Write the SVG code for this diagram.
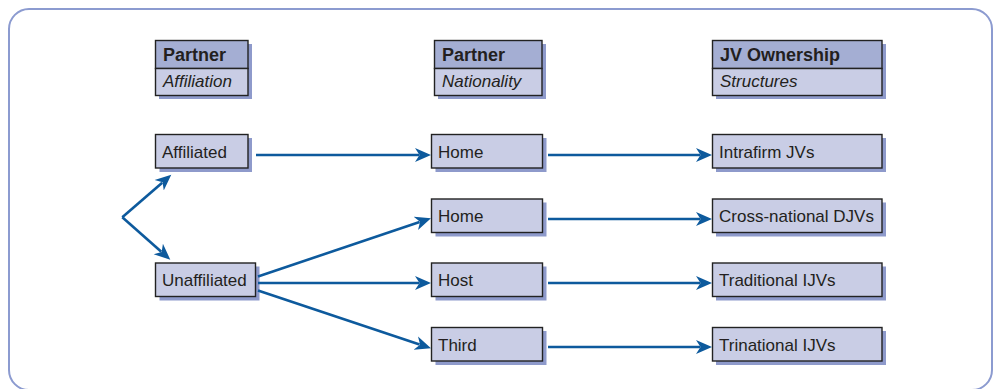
<svg xmlns="http://www.w3.org/2000/svg" width="995" height="389" viewBox="0 0 995 389">
  <style>
    .frame { fill: #ffffff; stroke: #8c9bd0; stroke-width: 2; }
    .shadow { fill: #8e9acb; }
    .head { fill: #a4aed3; stroke: #222; stroke-width: 1.4; }
    .sub { fill: #c9cde5; stroke: #222; stroke-width: 1.4; }
    .box { fill: #c9cde5; stroke: #222; stroke-width: 1.4; }
    .t { font-family: "Liberation Sans", Arial, sans-serif; font-size: 17px; fill: #231f20; }
    .tb { font-family: "Liberation Sans", Arial, sans-serif; font-size: 18px; font-weight: bold; fill: #231f20; }
    .ti { font-family: "Liberation Sans", Arial, sans-serif; font-size: 17px; font-style: italic; fill: #231f20; }
    .conn line { stroke: #0d5a9d; stroke-width: 2.6; marker-end: url(#arrow); }
  </style>
  <defs>
    <marker id="arrow" markerUnits="userSpaceOnUse" viewBox="0 -8 17 16" markerWidth="17" markerHeight="16" refX="4" refY="0" orient="auto">
      <path d="M0,-7 L16,0 L0,7 L4.5,0 Z" fill="#0d5a9d"/>
    </marker>
  </defs>

  <!-- outer frame -->
  <rect class="frame" x="9" y="9" width="983" height="381" rx="20" ry="20"/>

  <!-- column headers -->
  <g id="hdr-affiliation">
    <rect class="shadow" x="159" y="44" width="93" height="55"/>
    <rect class="head" x="155.5" y="40.5" width="92.5" height="28"/>
    <rect class="sub" x="155.5" y="68.5" width="92.5" height="27"/>
    <text class="tb" x="163" y="61">Partner</text>
    <text class="ti" x="163" y="87">Affiliation</text>
  </g>
  <g id="hdr-nationality">
    <rect class="shadow" x="438" y="44" width="108" height="55"/>
    <rect class="head" x="434.5" y="40.5" width="107.5" height="28"/>
    <rect class="sub" x="434.5" y="68.5" width="107.5" height="27"/>
    <text class="tb" x="442" y="61">Partner</text>
    <text class="ti" x="442" y="87">Nationality</text>
  </g>
  <g id="hdr-structures">
    <rect class="shadow" x="716" y="44" width="170" height="55"/>
    <rect class="head" x="712.5" y="40.5" width="169.5" height="28"/>
    <rect class="sub" x="712.5" y="68.5" width="169.5" height="27"/>
    <text class="tb" x="720" y="61">JV Ownership</text>
    <text class="ti" x="720" y="87">Structures</text>
  </g>

  <!-- affiliation nodes -->
  <g id="affiliated">
    <rect class="shadow" x="159.5" y="138" width="92.5" height="34"/>
    <rect class="box" x="155.5" y="134.5" width="92.5" height="33.5"/>
    <text class="t" x="162" y="157.5">Affiliated</text>
  </g>
  <g id="unaffiliated">
    <rect class="shadow" x="159.5" y="266.5" width="100" height="34"/>
    <rect class="box" x="155.5" y="263" width="100" height="33.5"/>
    <text class="t" x="162" y="286">Unaffiliated</text>
  </g>

  <!-- nationality nodes -->
  <g id="home-1">
    <rect class="shadow" x="435.5" y="138" width="111" height="34"/>
    <rect class="box" x="431.5" y="134.5" width="111" height="33.5"/>
    <text class="t" x="438" y="157.5">Home</text>
  </g>
  <g id="home-2">
    <rect class="shadow" x="435.5" y="202.5" width="111" height="34"/>
    <rect class="box" x="431.5" y="199" width="111" height="33.5"/>
    <text class="t" x="438" y="222">Home</text>
  </g>
  <g id="host">
    <rect class="shadow" x="435.5" y="266.5" width="111" height="34"/>
    <rect class="box" x="431.5" y="263" width="111" height="33.5"/>
    <text class="t" x="438" y="286">Host</text>
  </g>
  <g id="third">
    <rect class="shadow" x="435.5" y="331" width="111" height="34"/>
    <rect class="box" x="431.5" y="327.5" width="111" height="33.5"/>
    <text class="t" x="438" y="350.5">Third</text>
  </g>

  <!-- ownership structure nodes -->
  <g id="intrafirm">
    <rect class="shadow" x="716" y="138" width="170" height="34"/>
    <rect class="box" x="712.5" y="134.5" width="169.5" height="33.5"/>
    <text class="t" x="719" y="157.5">Intrafirm JVs</text>
  </g>
  <g id="cross-national">
    <rect class="shadow" x="716" y="202.5" width="170" height="34"/>
    <rect class="box" x="712.5" y="199" width="169.5" height="33.5"/>
    <text class="t" x="719" y="222">Cross-national DJVs</text>
  </g>
  <g id="traditional">
    <rect class="shadow" x="716" y="266.5" width="170" height="34"/>
    <rect class="box" x="712.5" y="263" width="169.5" height="33.5"/>
    <text class="t" x="719" y="286">Traditional IJVs</text>
  </g>
  <g id="trinational">
    <rect class="shadow" x="716" y="331" width="170" height="34"/>
    <rect class="box" x="712.5" y="327.5" width="169.5" height="33.5"/>
    <text class="t" x="719" y="350.5">Trinational IJVs</text>
  </g>

  <!-- connectors -->
  <g id="connectors" class="conn">
    <line x1="122.3" y1="217.3" x2="162.2" y2="182.7"/>
    <line x1="122.3" y1="217.3" x2="161.3" y2="251.7"/>
    <line x1="256" y1="155" x2="419" y2="155"/>
    <line x1="258" y1="276.5" x2="419.6" y2="222"/>
    <line x1="258" y1="283" x2="419" y2="283"/>
    <line x1="258" y1="290.5" x2="419.6" y2="344.5"/>
    <line x1="548" y1="155" x2="700" y2="155"/>
    <line x1="548" y1="219" x2="700" y2="219"/>
    <line x1="548" y1="283" x2="700" y2="283"/>
    <line x1="548" y1="347" x2="700" y2="347"/>
  </g>
</svg>
